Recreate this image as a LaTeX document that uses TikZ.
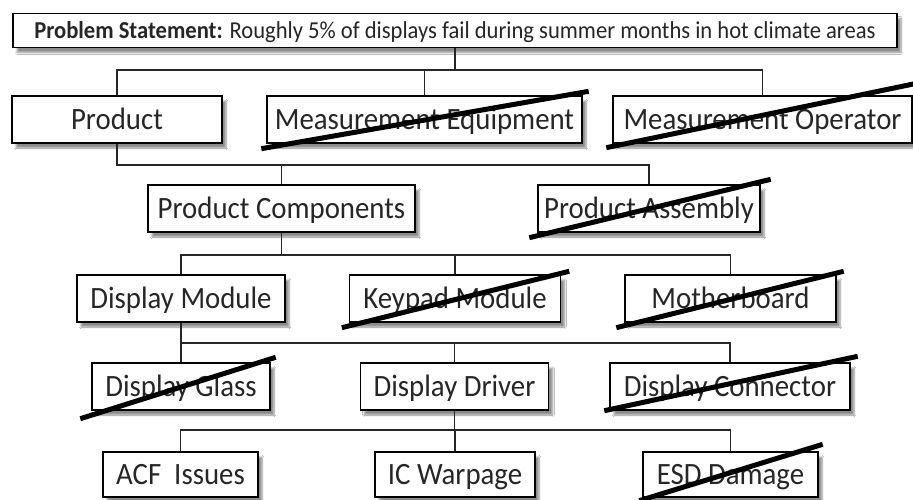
\documentclass[tikz,border=0pt]{standalone}
\usepackage{fontspec}
\setmainfont[FakeStretch=0.93]{Carlito}
\usetikzlibrary{shadows.blur,calc}
\begin{document}
\begin{tikzpicture}[x=1pt,y=-1pt,
  box/.style={draw=black,line width=1.4pt,fill=white,inner sep=0pt,
    text height=20pt,text depth=0pt,
    blur shadow={shadow xshift=4pt,shadow yshift=-5pt,shadow blur steps=6,shadow opacity=45},
    font=\fontsize{31}{34}\selectfont,text=black!85},
  link/.style={line width=1.4pt,draw=black!85},
  strike/.style={line width=5pt,draw=black}]
\useasboundingbox[fill=white] (0,0) rectangle (913,500);
% boxes
\node[box,minimum width=884pt,minimum height=34pt,text height=15.6pt,font=\fontsize{24.3}{27}\selectfont] (top) at (455,30.5) {\textbf{Problem Statement:} Roughly 5\% of displays fail during summer months in hot climate areas};
\node[box,minimum width=210pt,minimum height=47pt] (prod) at (117,119.5) {Product};
\node[box,minimum width=315pt,minimum height=47pt] (me) at (424.5,119.5) {Measurement Equipment};
\node[box,minimum width=299pt,minimum height=47pt] (mo) at (762.5,119.5) {Measurement Operator};
\node[box,minimum width=267pt,minimum height=47pt] (pc) at (281.5,208.5) {Product Components};
\node[box,minimum width=222pt,minimum height=47pt] (pa) at (649,208.5) {Product Assembly};
\node[box,minimum width=208pt,minimum height=47pt] (dm) at (181,298.5) {Display Module};
\node[box,minimum width=211pt,minimum height=47pt] (km) at (455,298.5) {Keypad Module};
\node[box,minimum width=211pt,minimum height=47pt] (mb) at (730.5,298.5) {Motherboard};
\node[box,minimum width=178pt,minimum height=47pt] (dg) at (181,386.5) {Display Glass};
\node[box,minimum width=188pt,minimum height=47pt] (dd) at (454.5,386.5) {Display Driver};
\node[box,minimum width=240pt,minimum height=47pt] (dc) at (730,386.5) {Display Connector};
\node[box,minimum width=155pt,minimum height=45pt] (acf) at (180.5,474.5) {ACF\ \ Issues};
\node[box,minimum width=160pt,minimum height=45pt] (ic) at (455,474.5) {IC Warpage};
\node[box,minimum width=175pt,minimum height=45pt] (esd) at (730.5,474.5) {ESD Damage};
% bus coordinates
\coordinate (b1) at (0,70);
\coordinate (b2) at (0,165);
\coordinate (b3) at (0,255);
\coordinate (b4) at (0,343);
\coordinate (b5) at (0,430);
% connectors
\draw[link] (top.south) -- (top.south |- b1);
\draw[link] (prod.north) |- (mo.north |- b1) -- (mo.north);
\draw[link] (me.north) -- (me.north |- b1);
\draw[link] (prod.south) |- (pa.north |- b2) -- (pa.north);
\draw[link] (pc.north) -- (pc.north |- b2);
\draw[link] (pc.south) -- (pc.south |- b3);
\draw[link] (dm.north) |- (mb.north |- b3) -- (mb.north);
\draw[link] (km.north) -- (km.north |- b3);
\draw[link] (dm.south) -- (dm.south |- b4);
\draw[link] (dg.north) |- (dc.north |- b4) -- (dc.north);
\draw[link] (dd.north) -- (dd.north |- b4);
\draw[link] (dd.south) -- (dd.south |- b5);
\draw[link] (acf.north) |- (esd.north |- b5) -- (esd.north);
\draw[link] (ic.north) -- (ic.north |- b5);
% strike-outs
\draw[strike] ($(me.south west)+(-5,5)$) -- ($(me.north east)+(6,-4)$);
\draw[strike] ($(mo.south west)+(-6,4)$) -- ($(mo.north east)+(4,-12)$);
\draw[strike] ($(pa.south west)+(-8,5)$) -- ($(pa.north east)+(10,-5)$);
\draw[strike] ($(km.south west)+(-7,5)$) -- ($(km.north east)+(8,-3)$);
\draw[strike] ($(mb.south west)+(-8,5)$) -- ($(mb.north east)+(7,-3)$);
\draw[strike] ($(dg.south west)+(-11,8)$) -- ($(dg.north east)+(5,-5)$);
\draw[strike] ($(dc.south west)+(-5,0)$) -- ($(dc.north east)+(7,-6)$);
\draw[strike] ($(esd.south west)+(-3,3)$) -- ($(esd.north east)+(4,-7)$);
\end{tikzpicture}
\end{document}
